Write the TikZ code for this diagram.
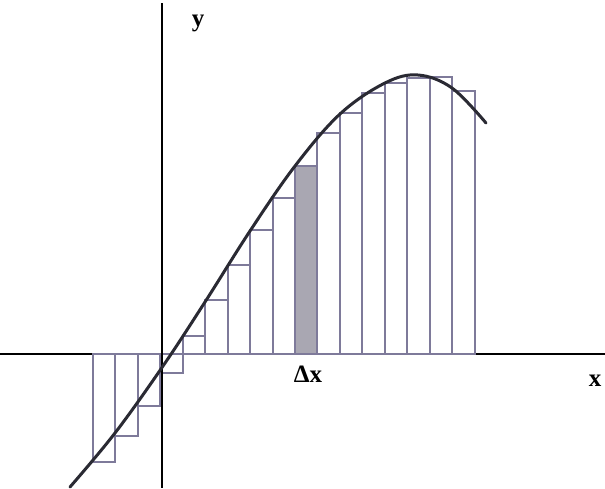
\documentclass[tikz,border=0pt]{standalone}
\usepackage{fontspec}
\setmainfont{Liberation Serif}
\definecolor{barcol}{HTML}{7E7A9A}
\definecolor{shadecol}{HTML}{A9A7B2}
\definecolor{curvecol}{HTML}{2A2A33}
\begin{document}
\begin{tikzpicture}[x=1pt,y=-1pt,
  bar/.style={draw=barcol, line width=2.6pt},
  shadebar/.style={bar, fill=shadecol},
  axisline/.style={draw=black, line width=2.2pt},
  curveline/.style={draw=curvecol, line width=3pt, line cap=round},
  lbl/.style={font=\bfseries\fontsize{25}{25}\selectfont, inner sep=0pt}]
\useasboundingbox (0,0) rectangle (605,488);
\fill[white] (0,0) rectangle (605,488);
\coordinate (xl) at (0,354);
\coordinate (xr) at (605,354);
\coordinate (yt) at (162,3);
\coordinate (yb) at (162,488);
\draw[axisline] (xl) -- (xr);
\foreach \l/\r/\t in {93/115/462, 115/138/436, 138/160/406, 160/183/373,
  183/205/336, 205/228/300, 228/250/265, 250/273/230, 273/295/198,
  317/340/133, 340/362/113, 362/385/93, 385/407/83, 407/430/78,
  430/452/77, 452/475/91}
  \draw[bar] (\l,354) rectangle (\r,\t);
\draw[shadebar] (295,354) rectangle (317,166);
\draw[axisline] (yt) -- (yb);
\draw[curveline] plot[smooth, tension=0.6] coordinates {
  (70,487) (115,433) (163,366) (205,302) (250,231) (295,166)
  (340,114) (385,83) (418,75) (452,88) (486,123)};
\node[lbl] (ylab) at (198,23) {y};
\node[lbl] (xlab) at (595,381) {x};
\node[lbl] (dxlab) at (308,374) {Δx};
\end{tikzpicture}
\end{document}
